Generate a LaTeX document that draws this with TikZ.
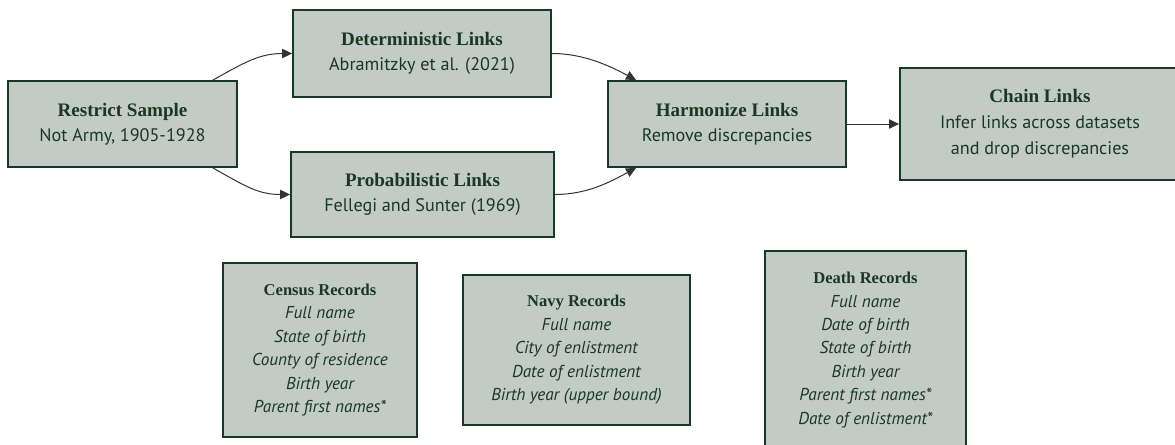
\documentclass[tikz,border=0pt]{standalone}
\usepackage{fontspec}
\setmainfont{PT Sans}
\newfontfamily\titlefont{Liberation Serif}
\usetikzlibrary{arrows.meta,calc}
\definecolor{boxfill}{RGB}{194,203,197}
\definecolor{boxline}{RGB}{24,58,36}
\definecolor{txt}{RGB}{26,56,36}
\definecolor{edge}{RGB}{51,51,51}
\newcommand{\ttl}[1]{{\titlefont\bfseries\fontsize{14.3}{18.75}\selectfont #1}}
\newcommand{\rttl}[1]{{\titlefont\upshape\bfseries\fontsize{12.4}{17.6}\selectfont #1}}
\begin{document}
\begin{tikzpicture}[x=0.75pt,y=-0.75pt,
  box/.style={draw=boxline,line width=1.4pt,fill=boxfill,text=txt,align=center,inner sep=0pt,
    font=\fontsize{13.6}{18.75}\selectfont},
  rec/.style={box,font=\fontsize{12.9}{17.6}\selectfont\itshape},
  conn/.style={draw=edge,line width=0.75pt,-{Triangle[length=7.5pt,width=7pt]}}]
\useasboundingbox (0,0) rectangle (1175,444);
\node[box,minimum width=171.75pt,minimum height=64.5pt] (rs) at (122.5,124) {\ttl{Restrict Sample}\\Not Army, 1905-1928};
\node[box,minimum width=193.5pt,minimum height=65.25pt] (det) at (422,53.5) {\ttl{Deterministic Links}\\Abramitzky et al. (2021)};
\node[box,minimum width=197.25pt,minimum height=63.75pt] (prob) at (422.5,194.5) {\ttl{Probabilistic Links}\\Fellegi and Sunter (1969)};
\node[box,minimum width=178.5pt,minimum height=64.5pt] (harm) at (727,124) {\ttl{Harmonize Links}\\Remove discrepancies};
\node[box,minimum width=210pt,minimum height=84pt,font=\fontsize{13.6}{19.5}\selectfont] (chain) at (1040,124) {\ttl{Chain Links}\\Infer links across datasets\\and drop discrepancies};
\node[rec,minimum width=145.5pt,minimum height=130.5pt] (census) at (320,350) {\rttl{Census Records}\\Full name\\State of birth\\County of residence\\Birth year\\Parent first names*};
\node[rec,minimum width=170.25pt,minimum height=112.5pt] (navy) at (576.5,350) {\rttl{Navy Records}\\Full name\\City of enlistment\\Date of enlistment\\Birth year (upper bound)};
\node[rec,minimum width=150.75pt,minimum height=148.5pt] (death) at (865.5,350) {\rttl{Death Records}\\Full name\\Date of birth\\State of birth\\Birth year\\Parent first names*\\Date of enlistment*};
\draw[conn] ($(rs.north east)+(-25,0)$) .. controls +(32,-18) and +(-32,0) .. (det.west);
\draw[conn] ($(rs.south east)+(-25,0)$) .. controls +(32,18) and +(-32,0) .. (prob.west);
\draw[conn] (det.east) .. controls +(32,0) and +(-26,-14) .. ($(harm.north west)+(29,0)$);
\draw[conn] (prob.east) .. controls +(32,0) and +(-26,14) .. ($(harm.south west)+(29,0)$);
\draw[conn] (harm.east) -- (chain.west);
\end{tikzpicture}
\end{document}
